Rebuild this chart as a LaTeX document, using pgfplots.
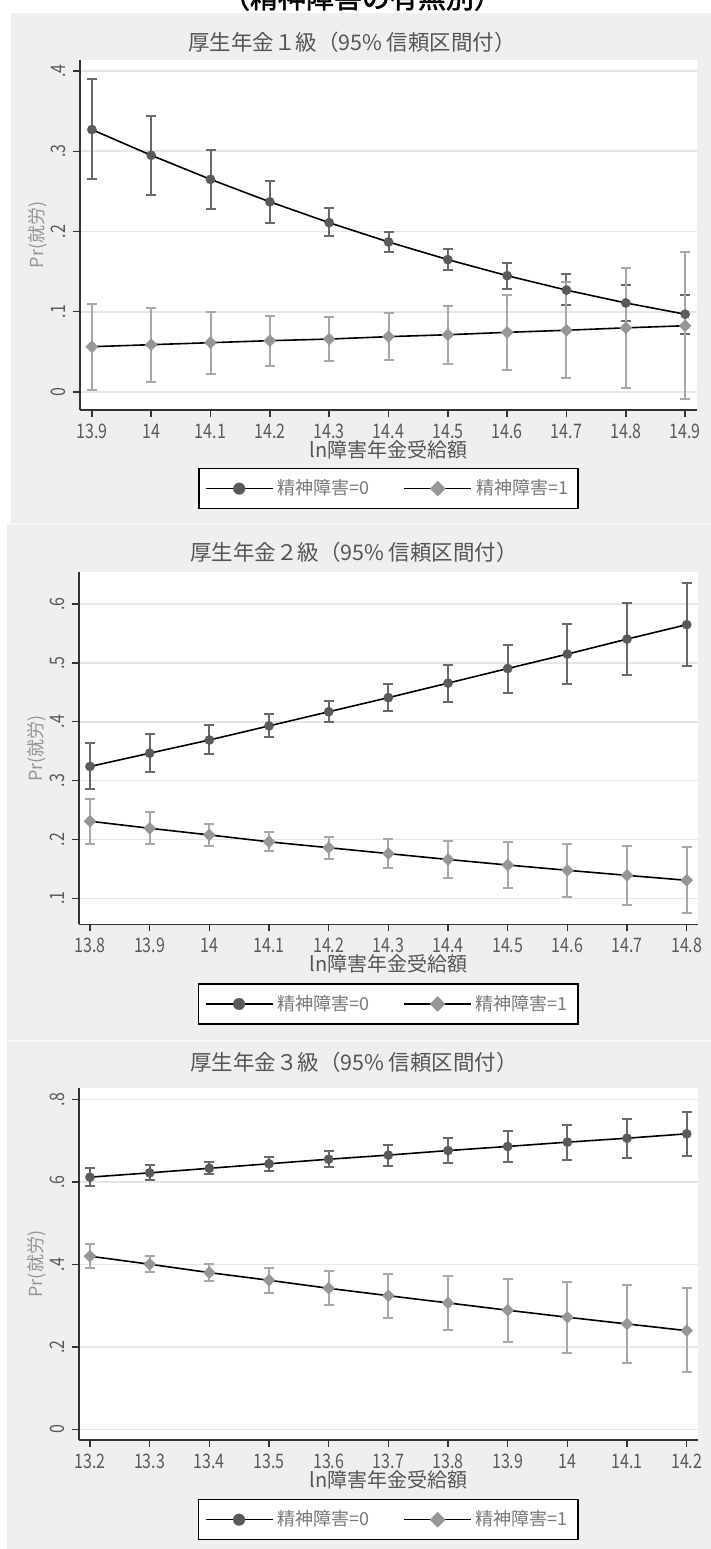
\documentclass[border=0pt]{standalone}
\usepackage{fontspec}
\setmainfont{Noto Sans CJK JP}
\newfontfamily\tickfont[FakeStretch=0.8]{Noto Sans CJK JP}
\newfontfamily\topfont[FakeBold=2]{Noto Sans CJK JP}
\usepackage{pgfplots}
\usepackage{pgfplotstable}
\pgfplotsset{compat=1.18}

\definecolor{bggray}{RGB}{239,239,239}
\definecolor{sepgray}{RGB}{248,248,248}
\definecolor{gridgray}{RGB}{230,230,230}
\definecolor{axisgray}{RGB}{50,50,50}
\definecolor{textgray}{RGB}{85,85,85}
\definecolor{ticktext}{RGB}{90,90,90}
\definecolor{legtext}{RGB}{120,120,120}
\definecolor{ylabgray}{RGB}{150,150,150}
\definecolor{markA}{RGB}{90,90,90}
\definecolor{ciA}{RGB}{105,105,105}
\definecolor{markB}{RGB}{150,150,150}
\definecolor{ciB}{RGB}{168,168,168}

% Panel 1 (厚生年金1級)
\pgfplotstableread{
x y lo hi
13.9 0.327 0.265 0.390
14.0 0.295 0.246 0.344
14.1 0.265 0.228 0.302
14.2 0.237 0.211 0.263
14.3 0.211 0.194 0.229
14.4 0.187 0.174 0.199
14.5 0.165 0.152 0.178
14.6 0.145 0.129 0.161
14.7 0.127 0.108 0.147
14.8 0.111 0.088 0.133
14.9 0.097 0.072 0.121
}\pOneA
\pgfplotstableread{
x y lo hi
13.9 0.0565 0.003 0.110
14.0 0.059 0.013 0.105
14.1 0.0615 0.023 0.100
14.2 0.064 0.033 0.095
14.3 0.066 0.0386 0.094
14.4 0.069 0.040 0.098
14.5 0.0714 0.035 0.1075
14.6 0.0744 0.027 0.121
14.7 0.077 0.017 0.1375
14.8 0.080 0.005 0.155
14.9 0.0826 -0.009 0.1745
}\pOneB
% Panel 2 (厚生年金2級)
\pgfplotstableread{
x y lo hi
13.8 0.324 0.285 0.364
13.9 0.3466 0.315 0.379
14.0 0.369 0.345 0.395
14.1 0.393 0.374 0.413
14.2 0.417 0.399 0.4355
14.3 0.441 0.4175 0.4645
14.4 0.4657 0.4344 0.497
14.5 0.4905 0.4497 0.531
14.6 0.515 0.4645 0.567
14.7 0.5405 0.479 0.601
14.8 0.565 0.494 0.6356
}\pTwoA
\pgfplotstableread{
x y lo hi
13.8 0.231 0.193 0.2694
13.9 0.219 0.192 0.246
14.0 0.2077 0.189 0.227
14.1 0.196 0.180 0.212
14.2 0.186 0.167 0.2048
14.3 0.176 0.151 0.201
14.4 0.166 0.134 0.198
14.5 0.1566 0.1175 0.1957
14.6 0.1476 0.102 0.193
14.7 0.139 0.088 0.1895
14.8 0.1306 0.0755 0.1867
}\pTwoB
% Panel 3 (厚生年金3級)
\pgfplotstableread{
x y lo hi
13.2 0.6115 0.590 0.633
13.3 0.622 0.605 0.6406
13.4 0.633 0.618 0.649
13.5 0.644 0.627 0.6615
13.6 0.655 0.635 0.676
13.7 0.665 0.6397 0.6906
13.8 0.676 0.6455 0.706
13.9 0.686 0.6494 0.723
14.0 0.6964 0.654 0.738
14.1 0.706 0.658 0.753
14.2 0.7166 0.663 0.769
}\pThreeA
\pgfplotstableread{
x y lo hi
13.2 0.4198 0.3914 0.449
13.3 0.4004 0.381 0.4205
13.4 0.380 0.3606 0.402
13.5 0.3615 0.3315 0.3914
13.6 0.342 0.301 0.384
13.7 0.324 0.271 0.3776
13.8 0.3065 0.2417 0.372
13.9 0.2888 0.2126 0.3647
14.0 0.2718 0.186 0.358
14.1 0.2555 0.1616 0.351
14.2 0.2393 0.138 0.343
}\pThreeB

\pgfplotsset{
  statastyle/.style={
    scale only axis,
    axis background/.style={fill=white},
    axis x line*=bottom, axis y line*=left,
    axis line style={draw=axisgray, line width=0.7pt},
    tick align=outside, major tick length=3.5pt,
    tick style={draw=axisgray, line width=0.7pt},
    ymajorgrids, grid style={draw=gridgray, line width=0.8pt},
    xticklabel style={font=\tickfont\fontsize{10}{12}\selectfont, text=ticktext},
    yticklabel style={font=\tickfont\fontsize{10}{12}\selectfont, text=ticktext, rotate=90, anchor=south},
    xlabel style={font=\fontsize{10}{12}\selectfont, text=textgray, at={(axis description cs:0.5,0)}, anchor=center, yshift=-20pt},
    ylabel style={font=\fontsize{9}{11}\selectfont, text=ylabgray, at={(axis description cs:-0.069,0.5)}, anchor=center},
    xlabel={ln障害年金受給額},
    ylabel={Pr(就労)},
    legend columns=2,
    legend cell align=left,
    legend style={draw=black, line width=0.6pt, fill=white,
      font=\fontsize{9}{11}\selectfont, text=legtext,
      anchor=north, inner xsep=3pt, inner ysep=3.5pt,
      /tikz/every even column/.append style={column sep=15pt}},
    legend image code/.code={
      \draw[mark repeat=2,mark phase=2,##1, every mark/.append style={scale=1.25}] plot coordinates {(0pt,0pt) (16.75pt,0pt) (33.5pt,0pt)};
    },
  },
  ciplotA/.style={draw=none, mark=none, forget plot,
    error bars/.cd, y dir=both, y explicit,
    error bar style={draw=ciA, line width=1pt},
    error mark options={rotate=90, draw=ciA, mark size=2.5pt, line width=1pt}},
  ciplotB/.style={draw=none, mark=none, forget plot,
    error bars/.cd, y dir=both, y explicit,
    error bar style={draw=ciB, line width=1pt},
    error mark options={rotate=90, draw=ciB, mark size=2.5pt, line width=1pt}},
  lineA/.style={draw=black, line width=0.8pt, mark=*, mark size=2.35pt,
    mark options={fill=markA, draw=markA, line width=0.1pt}},
  lineB/.style={draw=black, line width=0.8pt, mark=square*, mark size=2.15pt,
    mark options={rotate=45, fill=markB, draw=markB, line width=0.1pt}},
}

\begin{document}
\begin{tikzpicture}
\useasboundingbox (0,0) rectangle (355.5pt,-774.5pt);
\fill[white] (0,0) rectangle (355.5pt,-774.5pt);
\fill[bggray] (5.5pt,-6.5pt) rectangle (355.5pt,-262pt);
\fill[bggray] (3.5pt,-262pt) rectangle (355.5pt,-520.5pt);
\fill[bggray] (3.5pt,-520.5pt) rectangle (355.5pt,-774.5pt);
\draw[sepgray, line width=0.6pt] (3.5pt,-262pt) -- (355.5pt,-262pt);
\draw[sepgray, line width=0.6pt] (3.5pt,-520.5pt) -- (355.5pt,-520.5pt);

\begin{scope}
\clip (0,0) rectangle (355.5pt,-6.5pt);
\node[font=\topfont\fontsize{14}{16}\selectfont, anchor=base, inner sep=0pt] at (181pt,-4pt) {（精神障害の有無別）};
\end{scope}

\node[font=\fontsize{10.75}{12}\selectfont, text=textgray, anchor=center] at (176pt,-21pt) {厚生年金１級（95\% 信頼区間付）};
\node[font=\fontsize{10.75}{12}\selectfont, text=textgray, anchor=center] at (177pt,-276pt) {厚生年金２級（95\% 信頼区間付）};
\node[font=\fontsize{10.75}{12}\selectfont, text=textgray, anchor=center] at (177pt,-531pt) {厚生年金３級（95\% 信頼区間付）};

% Panel 1
\begin{axis}[statastyle,
  at={(40pt,-205pt)}, anchor=south west,
  width=308.5pt, height=175pt,
  xmin=13.880, xmax=14.920, ymin=-0.0224, ymax=0.4137,
  xtick={13.9,14,14.1,14.2,14.3,14.4,14.5,14.6,14.7,14.8,14.9},
  xticklabels={13.9,14,14.1,14.2,14.3,14.4,14.5,14.6,14.7,14.8,14.9},
  ytick={0,0.1,0.2,0.3,0.4}, yticklabels={0,.1,.2,.3,.4},
  legend style={at={(axis description cs:0.5,-0.1657)}},
]
\addplot[ciplotA] table[x=x, y=y, y error plus expr=\thisrow{hi}-\thisrow{y}, y error minus expr=\thisrow{y}-\thisrow{lo}]{\pOneA};
\addplot[ciplotB] table[x=x, y=y, y error plus expr=\thisrow{hi}-\thisrow{y}, y error minus expr=\thisrow{y}-\thisrow{lo}]{\pOneB};
\addplot[lineA] table[x=x,y=y]{\pOneA};
\addplot[lineB] table[x=x,y=y]{\pOneB};
\legend{精神障害=0, 精神障害=1}
\end{axis}

% Panel 2
\begin{axis}[statastyle,
  at={(39.5pt,-462.15pt)}, anchor=south west,
  width=309.35pt, height=176pt,
  xmin=13.7816, xmax=14.8184, ymin=0.0558, ymax=0.654,
  xtick={13.8,13.9,14,14.1,14.2,14.3,14.4,14.5,14.6,14.7,14.8},
  xticklabels={13.8,13.9,14,14.1,14.2,14.3,14.4,14.5,14.6,14.7,14.8},
  ytick={0.1,0.2,0.3,0.4,0.5,0.6}, yticklabels={.1,.2,.3,.4,.5,.6},
  legend style={at={(axis description cs:0.5,-0.1676)}},
]
\addplot[ciplotA] table[x=x, y=y, y error plus expr=\thisrow{hi}-\thisrow{y}, y error minus expr=\thisrow{y}-\thisrow{lo}]{\pTwoA};
\addplot[ciplotB] table[x=x, y=y, y error plus expr=\thisrow{hi}-\thisrow{y}, y error minus expr=\thisrow{y}-\thisrow{lo}]{\pTwoB};
\addplot[lineA] table[x=x,y=y]{\pTwoA};
\addplot[lineB] table[x=x,y=y]{\pTwoB};
\legend{精神障害=0, 精神障害=1}
\end{axis}

% Panel 3
\begin{axis}[statastyle,
  at={(39.5pt,-720pt)}, anchor=south west,
  width=309.35pt, height=175.85pt,
  xmin=13.1816, xmax=14.2184, ymin=-0.026, ymax=0.827,
  xtick={13.2,13.3,13.4,13.5,13.6,13.7,13.8,13.9,14,14.1,14.2},
  xticklabels={13.2,13.3,13.4,13.5,13.6,13.7,13.8,13.9,14,14.1,14.2},
  ytick={0,0.2,0.4,0.6,0.8}, yticklabels={0,.2,.4,.6,.8},
  legend style={at={(axis description cs:0.5,-0.1678)}},
]
\addplot[ciplotA] table[x=x, y=y, y error plus expr=\thisrow{hi}-\thisrow{y}, y error minus expr=\thisrow{y}-\thisrow{lo}]{\pThreeA};
\addplot[ciplotB] table[x=x, y=y, y error plus expr=\thisrow{hi}-\thisrow{y}, y error minus expr=\thisrow{y}-\thisrow{lo}]{\pThreeB};
\addplot[lineA] table[x=x,y=y]{\pThreeA};
\addplot[lineB] table[x=x,y=y]{\pThreeB};
\legend{精神障害=0, 精神障害=1}
\end{axis}
\end{tikzpicture}
\end{document}
